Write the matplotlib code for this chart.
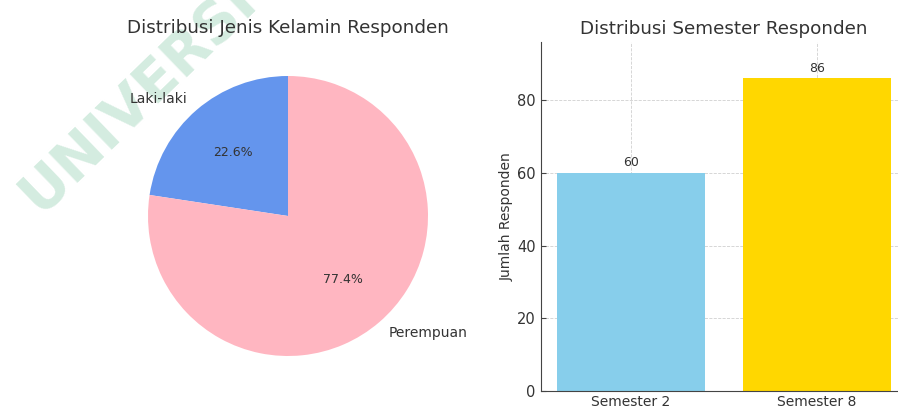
import matplotlib
matplotlib.use("Agg")
import matplotlib.pyplot as plt

gender_labels = ["Laki-laki", "Perempuan"]
gender_counts = [33, 113]
gender_colors = ["#6495ED", "#FFB6C1"]

semester_labels = ["Semester 2", "Semester 8"]
semester_counts = [60, 86]
semester_colors = ["#87CEEB", "#FFD700"]

TEXT = "#333333"
plt.rcParams["text.color"] = TEXT
plt.rcParams["axes.labelcolor"] = TEXT
plt.rcParams["xtick.color"] = "#444444"
plt.rcParams["ytick.color"] = "#444444"
plt.rcParams["xtick.labelcolor"] = TEXT
plt.rcParams["ytick.labelcolor"] = TEXT

fig = plt.figure(figsize=(8.98, 4.08), dpi=100)

# watermark
fig.text(40 / 898, 1 - 214 / 408, "UNIVERSITAS", rotation=44, fontsize=41,
         fontweight="bold", color="#D4ECE0", ha="left", va="baseline",
         rotation_mode="anchor", zorder=-5)

ax1 = fig.add_axes([113 / 898, 17 / 408, 350 / 898, 350 / 408])
ax1.patch.set_alpha(0)
wedges, texts, autotexts = ax1.pie(gender_counts, labels=gender_labels, colors=gender_colors,
                                   autopct="%1.1f%%", startangle=90,
                                   textprops={"fontsize": 10, "color": TEXT})
for t in autotexts:
    t.set_fontsize(9)
ax1.set_title("Distribusi Jenis Kelamin Responden", fontsize=13.2, color=TEXT, pad=5.5)

ax2 = fig.add_axes([541 / 898, 17 / 408, 366 / 898, 349 / 408])
ax2.patch.set_alpha(0)
x = range(len(semester_labels))
bars = ax2.bar(x, semester_counts, color=semester_colors, width=0.8, zorder=2)
for xi, v in zip(x, semester_counts):
    ax2.text(xi, v + 1.0, str(v), ha="center", va="bottom", fontsize=9, color=TEXT)
ax2.set_xticks(list(x))
ax2.set_xticklabels(semester_labels, fontsize=10)
ax2.set_xlim(-0.485, 1.485)
ax2.set_ylim(0, 96)
ax2.set_yticks([0, 20, 40, 60, 80])
ax2.tick_params(axis="both", direction="in", length=3.5, width=0.8)
ax2.tick_params(axis="y", labelsize=10.5, pad=4)
ax2.tick_params(axis="x", labelsize=10, pad=3)
ax2.set_ylabel("Jumlah Responden", fontsize=10, labelpad=2)
ax2.grid(True, linestyle="--", color="#d0d0d0", linewidth=0.6, zorder=0)
ax2.spines["top"].set_visible(False)
ax2.spines["right"].set_visible(False)
ax2.spines["left"].set_color("#444444")
ax2.spines["bottom"].set_color("#444444")
ax2.set_title("Distribusi Semester Responden", fontsize=13.2, color=TEXT, pad=5.5)

fig.savefig("out.png", dpi=100)
